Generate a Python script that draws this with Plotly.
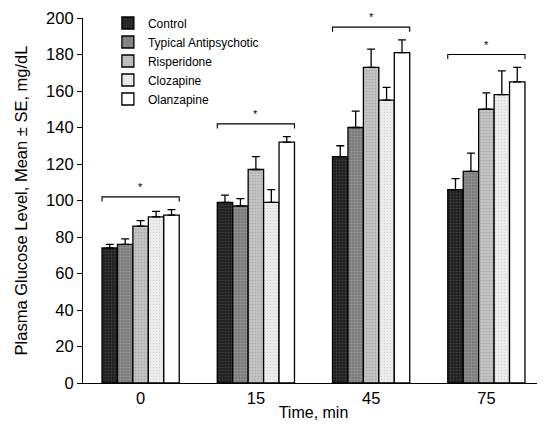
import plotly.graph_objects as go

times = ["0", "15", "45", "75"]
series_names = ["Control", "Typical Antipsychotic", "Risperidone", "Clozapine", "Olanzapine"]
control = [74, 99, 124, 106]
typical = [76, 97, 140, 116]
risperidone = [86, 117, 173, 150]
clozapine = [91, 99, 155, 158]
olanzapine = [92, 132, 181, 165]
control_se = [2, 4, 6, 6]
typical_se = [3, 4, 9, 10]
risperidone_se = [3, 7, 10, 9]
clozapine_se = [3, 7, 7, 13]
olanzapine_se = [3, 3, 7, 8]

values = [control, typical, risperidone, clozapine, olanzapine]
errors = [control_se, typical_se, risperidone_se, clozapine_se, olanzapine_se]
bg = ["#1e1e1e", "#7a7a7a", "#c4c4c4", "#ececec", "#ffffff"]
fg = ["#5a5a5a", "#b0b0b0", "#8a8a8a", "#a8a8a8", "#ffffff"]
sol = [0.35, 0.4, 0.25, 0.12, 0.0]

FONT = "Liberation Sans, Arial, Helvetica, sans-serif"
BARGAP = 0.33

fig = go.Figure()
for name, v, e, b, f, s in zip(series_names, values, errors, bg, fg, sol):
    pattern = dict(shape=".", fgcolor=f, bgcolor=b, size=3, solidity=s) if s > 0 else None
    fig.add_trace(go.Bar(
        name=name, x=times, y=v,
        marker=dict(color=b, line=dict(color="black", width=1.3), pattern=pattern),
        error_y=dict(type="data", array=e, arrayminus=[0] * len(e), symmetric=False,
                     color="black", thickness=1.3, width=4),
    ))

# significance brackets computed from data
half = (1 - BARGAP) / 2
for i, t in enumerate(times):
    top = max(v[i] + e[i] for v, e in zip(values, errors))
    yb = top + 7
    fig.add_shape(type="path", xref="x", yref="y",
                  path=f"M {i - half},{yb - 2.5} L {i - half},{yb} L {i + half},{yb} L {i + half},{yb - 2.5}",
                  line=dict(color="black", width=1.1))
    fig.add_annotation(x=i, y=yb, xref="x", yref="y", text="*", showarrow=False,
                       yanchor="bottom", font=dict(size=11, color="black", family=FONT), yshift=2)

fig.update_layout(
    width=537, height=423,
    margin=dict(l=75, r=1, t=10, b=48, autoexpand=False),
    barmode="group", bargap=BARGAP, bargroupgap=0,
    plot_bgcolor="white", paper_bgcolor="white",
    font=dict(family=FONT, size=16, color="black"),
    showlegend=True,
    legend=dict(x=0.054, y=1.026, xanchor="left", yanchor="top",
                font=dict(size=12, family=FONT), bgcolor="rgba(0,0,0,0)",
                tracegroupgap=0, itemwidth=30),
    xaxis=dict(title=dict(text="Time, min", font=dict(size=16), standoff=0),
               automargin=False,
               showline=True, linecolor="black", linewidth=1.2, ticks="",
               showgrid=False, range=[-0.5, 3.5], tickfont=dict(size=16.5)),
    yaxis=dict(title=dict(text="Plasma Glucose Level, Mean ± SE, mg/dL", font=dict(size=16.5), standoff=14),
               automargin=False,
               range=[0, 200], tickvals=list(range(0, 201, 20)),
               showline=True, linecolor="black", linewidth=1.2, ticks="outside",
               ticklen=5, tickcolor="black", showgrid=False, zeroline=False,
               tickfont=dict(size=16.5)),
)

fig.write_html("out.html")
